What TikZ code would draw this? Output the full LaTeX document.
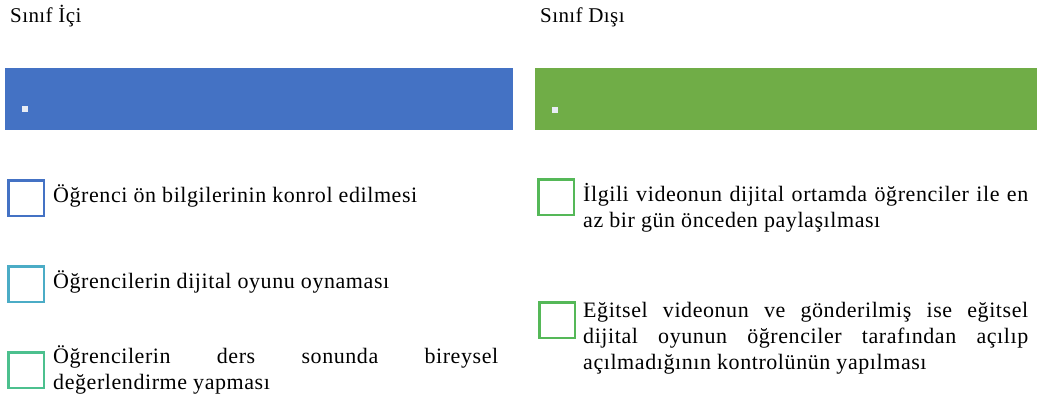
\documentclass[tikz,border=0pt]{standalone}
\usepackage{fontspec}
\setmainfont{Liberation Serif}[LetterSpace=2]
\newfontfamily\itemfont{Liberation Serif}[LetterSpace=2.6]
\definecolor{cblue}{HTML}{4472C4}
\definecolor{cgreen}{HTML}{70AD47}
\definecolor{cteal}{HTML}{4BACC6}
\definecolor{cmint}{HTML}{4CC08E}
\definecolor{cbox}{HTML}{55B858}
\definecolor{cdot}{HTML}{E8ECF4}
\tikzset{
  title/.style={anchor=base west, inner sep=0pt, font=\fontsize{21}{26}\selectfont},
  band/.style={anchor=north west, inner sep=0pt, outer sep=0pt},
  dot/.style={anchor=north west, inner sep=0pt, minimum size=6pt, fill=cdot},
  cbx/.style={anchor=north west, inner sep=0pt, minimum size=35.5pt, line width=2.6pt, draw=#1},
  item/.style={anchor=base west, inner sep=0pt, text width=445pt, align=justify,
    font=\itemfont\fontsize{22}{26}\selectfont}
}
\begin{document}
\begin{tikzpicture}[x=1pt,y=-1pt]
\useasboundingbox (0,0) rectangle (1037,398);
\node[title] (t1) at (10,23) {Sınıf İçi};
\node[title] (t2) at (540,23) {Sınıf Dışı};
\node[band, fill=cblue, minimum width=508pt, minimum height=62pt] (b1) at (5,68) {};
\node[band, fill=cgreen, minimum width=502pt, minimum height=62pt] (b2) at (535,68) {};
\node[dot] (d1) at (22,106) {};
\node[dot] (d2) at (552,107) {};
\node[cbx=cblue] (k1) at (7.3,179.3) {};
\node[cbx=cteal] (k2) at (7.3,265.3) {};
\node[cbx=cmint] (k3) at (7.3,351.3) {};
\node[cbx=cbox] (k4) at (537.3,178.3) {};
\node[cbx=cbox] (k5) at (538.3,301.3) {};
\node[item] (i1) at (53,203) {Öğrenci ön bilgilerinin konrol edilmesi};
\node[item] (i2) at (53,289) {Öğrencilerin dijital oyunu oynaması};
\node[item] (i3) at (53,363) {Öğrencilerin ders sonunda bireysel\linebreak değerlendirme yapması};
\node[item] (i4) at (583,202) {İlgili videonun dijital ortamda öğrenciler ile en\linebreak az bir gün önceden paylaşılması};
\node[item] (i5) at (583,317) {Eğitsel videonun ve gönderilmiş ise eğitsel\linebreak dijital oyunun öğrenciler tarafından açılıp\linebreak açılmadığının kontrolünün yapılması};
\end{tikzpicture}
\end{document}
